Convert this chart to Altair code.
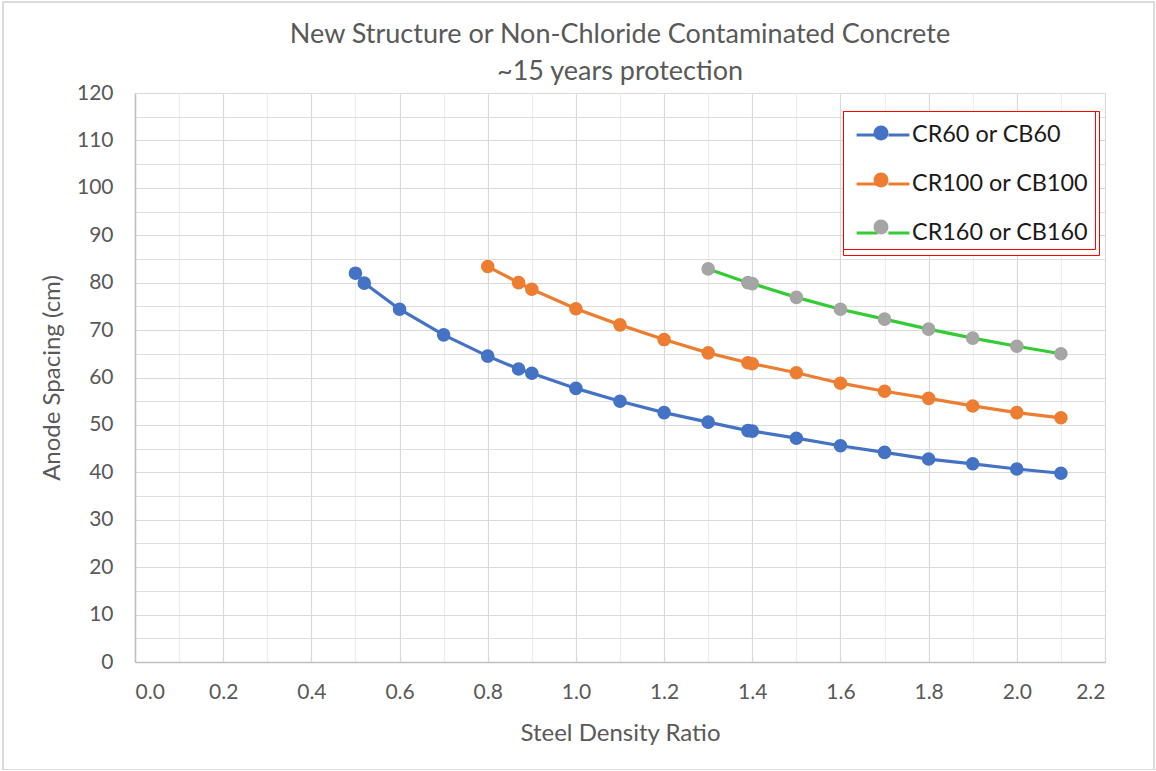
import altair as alt
import pandas as pd

FONT = "Lato"

series_names = ["CR60 or CB60", "CR100 or CB100", "CR160 or CB160"]
line_colors = ["#4472C4", "#ED7D31", "#33CC33"]
marker_colors = ["#4472C4", "#ED7D31", "#A5A5A5"]

x_cr60 = [0.50, 0.52, 0.60, 0.70, 0.80, 0.87, 0.90, 1.00, 1.10, 1.20, 1.30, 1.39, 1.40, 1.50, 1.60, 1.70, 1.80, 1.90, 2.00, 2.10]
y_cr60 = [82.0, 79.9, 74.4, 69.0, 64.5, 61.8, 60.9, 57.7, 55.0, 52.6, 50.6, 48.8, 48.7, 47.2, 45.6, 44.2, 42.8, 41.8, 40.7, 39.8]

x_cr100 = [0.80, 0.87, 0.90, 1.00, 1.10, 1.20, 1.30, 1.39, 1.40, 1.50, 1.60, 1.70, 1.80, 1.90, 2.00, 2.10]
y_cr100 = [83.4, 80.0, 78.6, 74.5, 71.1, 68.0, 65.2, 63.1, 62.9, 61.0, 58.8, 57.1, 55.6, 54.0, 52.6, 51.5]

x_cr160 = [1.30, 1.39, 1.40, 1.50, 1.60, 1.70, 1.80, 1.90, 2.00, 2.10]
y_cr160 = [82.9, 80.0, 79.8, 76.9, 74.4, 72.3, 70.2, 68.3, 66.6, 65.0]

x_major = [0.0, 0.2, 0.4, 0.6, 0.8, 1.0, 1.2, 1.4, 1.6, 1.8, 2.0, 2.2]
x_minor = [0.1, 0.3, 0.5, 0.7, 0.9, 1.1, 1.3, 1.5, 1.7, 1.9, 2.1]
y_major = [0, 10, 20, 30, 40, 50, 60, 70, 80, 90, 100, 110, 120]
y_minor = [5, 15, 25, 35, 45, 55, 65, 75, 85, 95, 105, 115]

rows = []
for name, xs, ys in zip(series_names, [x_cr60, x_cr100, x_cr160], [y_cr60, y_cr100, y_cr160]):
    for i, (xv, yv) in enumerate(zip(xs, ys)):
        rows.append({"series": name, "marker": name, "order": i, "x": xv, "y": yv})
df = pd.DataFrame(rows)

xscale = alt.Scale(domain=[0, 2.2], nice=False, zero=False)
yscale = alt.Scale(domain=[0, 120], nice=False)

base = alt.Chart(df)

# outer frame of the whole chart (decoration)
frame = alt.Chart(pd.DataFrame({"f": [0]})).mark_rect(
    fill=None, stroke="#D0D0D0", strokeWidth=1.5
).encode(x=alt.value(-132), x2=alt.value(1019), y=alt.value(-91), y2=alt.value(677))

grid_minor = base.mark_point(opacity=0).encode(
    x=alt.X("x:Q", scale=xscale, axis=alt.Axis(
        values=x_minor, grid=True, gridColor="#EDEDED", gridWidth=1.2,
        labels=False, ticks=False, domain=False, title=None, orient="top")),
    y=alt.Y("y:Q", scale=yscale, axis=alt.Axis(
        values=y_minor, grid=True, gridColor="#DEDEDE", gridWidth=1.2,
        labels=False, ticks=False, domain=False, title=None, orient="right")),
)

# custom symbols: scale unit = sqrt(576)/2 = 12 px
legend_common = dict(
    orient="none", legendX=708, legendY=18, title=None, direction="vertical",
    labelFont=FONT, labelFontSize=23.4, labelColor="#1a1a1a", labelOffset=15,
    labelLimit=400, symbolSize=576, symbolOffset=16, padding=10, rowPadding=23,
    strokeColor="#FF0000",
)

lines = base.mark_line(strokeWidth=3.2).encode(
    x=alt.X("x:Q", scale=xscale, axis=alt.Axis(
        values=x_major, format=".1f", grid=True, gridColor="#D9D9D9", gridWidth=1.2,
        ticks=False, domain=True, domainColor="#BFBFBF", domainWidth=1.5,
        labelFont=FONT, labelFontSize=21, labelColor="#595959", labelPadding=19,
        title="Steel Density Ratio", titleFont=FONT, titleFontSize=24,
        titleFontWeight="normal", titleColor="#595959", titlePadding=19)),
    y=alt.Y("y:Q", scale=yscale, axis=alt.Axis(
        values=y_major, grid=True, gridColor="#D9D9D9", gridWidth=1.2,
        ticks=False, domain=True, domainColor="#BFBFBF", domainWidth=1.5,
        labelFont=FONT, labelFontSize=21, labelColor="#595959", labelPadding=22,
        title="Anode Spacing (cm)", titleFont=FONT, titleFontSize=24,
        titleFontWeight="normal", titleColor="#595959", titlePadding=12)),
    stroke=alt.Stroke("series:N", sort=series_names,
                      scale=alt.Scale(domain=series_names, range=line_colors),
                      legend=alt.Legend(symbolType="M-2.2,0H-0.45M0.45,0H2.2", symbolStrokeWidth=3.2,
                                        fillColor="#FFFFFF", **legend_common)),
    detail="series:N",
    order="order:Q",
)

points = base.mark_point(filled=True, size=185, opacity=1).encode(
    x=alt.X("x:Q", scale=xscale, axis=None),
    y=alt.Y("y:Q", scale=yscale, axis=None),
    fill=alt.Fill("marker:N", sort=series_names,
                  scale=alt.Scale(range=marker_colors),
                  legend=alt.Legend(symbolType="M0.62,0A0.62,0.62,0,1,1,-0.62,0A0.62,0.62,0,1,1,0.62,0Z",
                                    symbolStrokeWidth=0, symbolOpacity=1,
                                    labelOpacity=0, **legend_common)),
    detail="series:N",
)

chart = alt.layer(frame, grid_minor, lines, points).resolve_axis(
    x="independent", y="independent"
).resolve_legend(stroke="independent", fill="independent").properties(
    width=970, height=569,
    padding={"left": 135, "top": 93, "right": 51, "bottom": 108},
    autosize=alt.AutoSizeParams(type="none"),
    title=alt.TitleParams(
        text=["New Structure or Non-Chloride Contaminated Concrete", "~15 years protection"],
        font=FONT, fontSize=27, fontWeight="normal", color="#595959",
        anchor="middle", frame="group", lineHeight=37, offset=-4, dy=81),
).configure_view(stroke=None).configure_legend(
    strokeColor="#FF0000", strokeWidth=2
).configure(background="#FFFFFF")

chart.save("out.html", embed_options={"renderer": "svg", "actions": False})
